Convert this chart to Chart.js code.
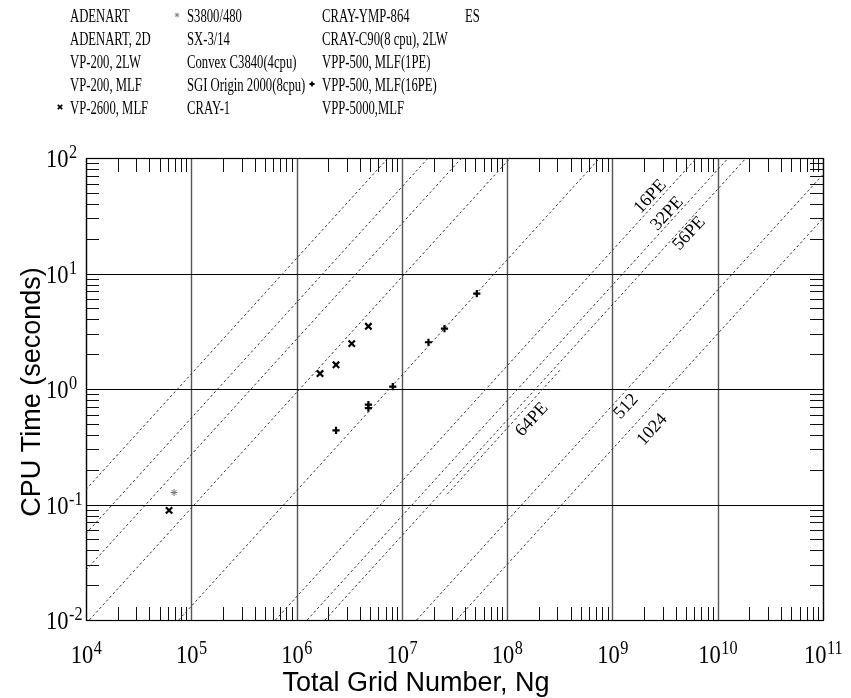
<!DOCTYPE html>
<html>
<head>
<meta charset="utf-8">
<script src="https://cdn.jsdelivr.net/npm/chart.js@4.4.1/dist/chart.umd.min.js"></script>
<style>
  html, body { margin: 0; padding: 0; background: #fff; }
  #wrap { width: 851px; height: 698px; position: relative; }
</style>
</head>
<body>
<div id="wrap"><canvas id="chart"></canvas></div>
<script>
// ---- values ----
const seriesNames = [
  'ADENART', 'ADENART, 2D', 'VP-200, 2LW', 'VP-200, MLF', 'VP-2600, MLF',
  'S3800/480', 'SX-3/14', 'Convex C3840(4cpu)', 'SGI Origin 2000(8cpu)', 'CRAY-1',
  'CRAY-YMP-864', 'CRAY-C90(8 cpu), 2LW', 'VPP-500, MLF(1PE)', 'VPP-500, MLF(16PE)', 'VPP-5000,MLF',
  'ES'
];

// VP-2600, MLF  (x markers)
const vp2600N = [6.15e4, 1.67e6, 2.37e6, 3.34e6, 4.81e6];
const vp2600T = [0.089, 1.36, 1.62, 2.47, 3.49];
// S3800/480  (grey star)
const s3800N = [6.86e4];
const s3800T = [0.127];
// VPP-500, MLF(16PE)  (+ markers)
const vpp16N = [2.37e6, 4.81e6, 4.81e6, 8.2e6, 1.79e7, 2.54e7, 5.15e7];
const vpp16T = [0.438, 0.684, 0.731, 1.05, 2.54, 3.33, 6.7];

// dashed guide lines (time proportional to Ng), ends read where they meet the frame
const guideStartN = [1e4, 1e4, 1e4, 1e4, 7.6e4, 6.3e5, 1.26e6, 1.86e6, 2.7e7, 1.38e7, 3.3e7];
const guideStartT = [0.135, 0.056, 0.027, 0.0093, 0.01, 0.01, 0.01, 0.01, 0.123, 0.01, 0.01];
const guideEndN   = [7.4e6, 1.78e7, 3.7e7, 1.07e8, 7.6e8, 6.3e9, 1.26e10, 1.86e10, 3.16e8, 1e11, 1e11];
const guideEndT   = [100, 100, 100, 100, 100, 100, 100, 100, 1.45, 72, 30];

// labels written along the guide lines
const peLabels = ['16PE', '32PE', '56PE', '64PE', '512', '1024'];
const peLabelN = [2.29e9, 3.31e9, 5.36e9, 1.72e8, 1.35e9, 2.39e9];
const peLabelT = [46.3, 33.0, 22.2, 0.542, 0.703, 0.444];

const xTickExp = [4, 5, 6, 7, 8, 9, 10, 11];
const yTickExp = [-2, -1, 0, 1, 2];

const xTitle = 'Total Grid Number, Ng';
const yTitle = 'CPU Time (seconds)';

// ---- styling ----
const SERIF = '"Liberation Serif", "Times New Roman", serif';
const SANS = '"Liberation Sans", Arial, sans-serif';
const legendColX = [70, 187, 322, 465];
const legendRowY = [15, 38, 61, 84, 107];

const markerStyle = {
  'VP-2600, MLF': { pointStyle: 'crossRot', radius: 4.5, borderWidth: 2.2, color: '#000' },
  'S3800/480': { pointStyle: 'star', radius: 3.5, borderWidth: 1, color: '#777' },
  'VPP-500, MLF(16PE)': { pointStyle: 'cross', radius: 3.6, borderWidth: 2.2, color: '#000' }
};
const seriesPoints = {
  'VP-2600, MLF': [vp2600N, vp2600T],
  'S3800/480': [s3800N, s3800T],
  'VPP-500, MLF(16PE)': [vpp16N, vpp16T]
};

const datasets = [];
seriesNames.forEach(name => {
  const pts = seriesPoints[name];
  const st = markerStyle[name] || { pointStyle: 'circle', radius: 0, borderWidth: 0, color: '#000' };
  datasets.push({
    label: name,
    isSeries: true,
    data: pts ? pts[0].map((n, i) => ({ x: n, y: pts[1][i] })) : [],
    showLine: false,
    pointStyle: st.pointStyle,
    pointRadius: st.radius,
    pointBorderWidth: st.borderWidth,
    pointBorderColor: st.color,
    pointBackgroundColor: st.color,
    order: 0
  });
});
guideStartN.forEach((n, i) => {
  datasets.push({
    label: 'guide' + i,
    data: [{ x: n, y: guideStartT[i] }, { x: guideEndN[i], y: guideEndT[i] }],
    showLine: true,
    borderColor: '#333',
    borderWidth: 1,
    borderDash: [2.5, 2.5],
    pointRadius: 0,
    order: 1
  });
});

// text helper: Times in the figure is drawn narrow, so squeeze horizontally
function drawText(ctx, s, x, y, size, sx, align, family) {
  ctx.save();
  ctx.font = size + 'px ' + family;
  ctx.textBaseline = 'alphabetic';
  ctx.textAlign = 'left';
  const w = ctx.measureText(s).width * sx;
  let x0 = x;
  if (align === 'center') x0 = x - w / 2;
  else if (align === 'right') x0 = x - w;
  ctx.translate(x0, y);
  ctx.scale(sx, 1);
  ctx.fillText(s, 0, 0);
  ctx.restore();
  return w;
}
function measure(ctx, s, size, sx, family) {
  ctx.save();
  ctx.font = size + 'px ' + family;
  const w = ctx.measureText(s).width * sx;
  ctx.restore();
  return w;
}
function drawPower(ctx, exp, x, y, align) {
  const e = String(exp);
  const w10 = measure(ctx, '10', 25, 0.9, SERIF);
  const we = measure(ctx, e, 18, 0.9, SERIF);
  let x0 = x;
  if (align === 'center') x0 = x - (w10 + we) / 2;
  drawText(ctx, '10', x0, y, 25, 0.9, 'left', SERIF);
  drawText(ctx, e, x0 + w10 + 0.5, y - 9, 18, 0.9, 'left', SERIF);
}
function drawMarker(ctx, style, x, y, r, lw, color) {
  ctx.save();
  ctx.strokeStyle = color;
  ctx.lineWidth = lw;
  ctx.beginPath();
  if (style === 'cross' || style === 'star') {
    ctx.moveTo(x - r, y); ctx.lineTo(x + r, y);
    ctx.moveTo(x, y - r); ctx.lineTo(x, y + r);
  }
  if (style === 'crossRot' || style === 'star') {
    const d = r * Math.SQRT1_2;
    ctx.moveTo(x - d, y - d); ctx.lineTo(x + d, y + d);
    ctx.moveTo(x - d, y + d); ctx.lineTo(x + d, y - d);
  }
  ctx.stroke();
  ctx.restore();
}

const framePlugin = {
  id: 'frame',
  beforeDatasetsDraw(chart) {
    const { ctx, chartArea: a, scales: { x, y } } = chart;
    ctx.save();
    // decade grid
    ctx.strokeStyle = '#555';
    ctx.lineWidth = 1.4;
    xTickExp.forEach(e => {
      const px = Math.round(x.getPixelForValue(Math.pow(10, e))) + 0.5;
      ctx.beginPath(); ctx.moveTo(px, a.top); ctx.lineTo(px, a.bottom); ctx.stroke();
    });
    ctx.strokeStyle = '#000';
    ctx.lineWidth = 1.2;
    yTickExp.forEach(e => {
      const py = Math.round(y.getPixelForValue(Math.pow(10, e))) + 0.5;
      ctx.beginPath(); ctx.moveTo(a.left, py); ctx.lineTo(a.right, py); ctx.stroke();
    });
    // minor ticks on all four sides, pointing inward
    ctx.lineWidth = 1;
    ctx.strokeStyle = '#111';
    for (let e = xTickExp[0]; e < xTickExp[xTickExp.length - 1]; e++) {
      for (let m = 2; m <= 9; m++) {
        const px = Math.round(x.getPixelForValue(m * Math.pow(10, e))) + 0.5;
        ctx.beginPath();
        ctx.moveTo(px, a.bottom); ctx.lineTo(px, a.bottom - 13);
        ctx.moveTo(px, a.top); ctx.lineTo(px, a.top + 14);
        ctx.stroke();
      }
    }
    for (let e = yTickExp[0]; e < yTickExp[yTickExp.length - 1]; e++) {
      for (let m = 2; m <= 9; m++) {
        const py = Math.round(y.getPixelForValue(m * Math.pow(10, e))) + 0.5;
        ctx.beginPath();
        ctx.moveTo(a.left, py); ctx.lineTo(a.left + 13, py);
        ctx.moveTo(a.right, py); ctx.lineTo(a.right - 13, py);
        ctx.stroke();
      }
    }
    // frame
    ctx.strokeStyle = '#000';
    ctx.lineWidth = 1.2;
    ctx.strokeRect(a.left + 0.5, a.top + 0.5, a.right - a.left, a.bottom - a.top);
    ctx.restore();
  },
  afterDraw(chart) {
    const { ctx, chartArea: a, scales: { x, y } } = chart;
    ctx.save();
    ctx.fillStyle = '#000';
    // tick labels
    xTickExp.forEach(e => drawPower(ctx, e, x.getPixelForValue(Math.pow(10, e)), a.bottom + 43, 'center'));
    yTickExp.forEach(e => drawPower(ctx, e, 46, y.getPixelForValue(Math.pow(10, e)) + 9, 'left'));
    // axis titles
    drawText(ctx, xTitle, 416, 691, 27, 1, 'center', SANS);
    ctx.save();
    ctx.translate(40, (a.top + a.bottom) / 2 + 3);
    ctx.rotate(-Math.PI / 2);
    drawText(ctx, yTitle, 0, 0, 27, 1, 'center', SANS);
    ctx.restore();
    // labels along guide lines
    const ang = Math.atan2(
      y.getPixelForValue(10) - y.getPixelForValue(1),
      x.getPixelForValue(1e6) - x.getPixelForValue(1e5));
    peLabels.forEach((s, i) => {
      ctx.save();
      ctx.translate(x.getPixelForValue(peLabelN[i]), y.getPixelForValue(peLabelT[i]));
      ctx.rotate(ang);
      ctx.font = '18px ' + SERIF;
      ctx.textAlign = 'center';
      ctx.textBaseline = 'middle';
      ctx.fillText(s, 0, 0);
      ctx.restore();
    });
    // legend, four columns of five
    chart.data.datasets.filter(d => d.isSeries).forEach((d, i) => {
      const cx = legendColX[Math.floor(i / 5)];
      const cy = legendRowY[i % 5];
      drawText(ctx, d.label, cx, cy + 7, 19.5, 0.65, 'left', SERIF);
      if (d.data.length) {
        drawMarker(ctx, d.pointStyle, cx - 10, cy, d.pointRadius * 0.7, d.pointBorderWidth * 0.8, d.pointBorderColor);
      }
    });
    ctx.restore();
  }
};

new Chart(document.getElementById('chart'), {
  type: 'scatter',
  data: { datasets },
  options: {
    responsive: true,
    maintainAspectRatio: false,
    animation: false,
    layout: { padding: { left: 86, right: 28, top: 158, bottom: 78 } },
    plugins: { legend: { display: false }, tooltip: { enabled: false } },
    scales: {
      x: { type: 'logarithmic', min: 1e4, max: 1e11, display: false },
      y: { type: 'logarithmic', min: 1e-2, max: 1e2, display: false }
    }
  },
  plugins: [framePlugin]
});
</script>
</body>
</html>
